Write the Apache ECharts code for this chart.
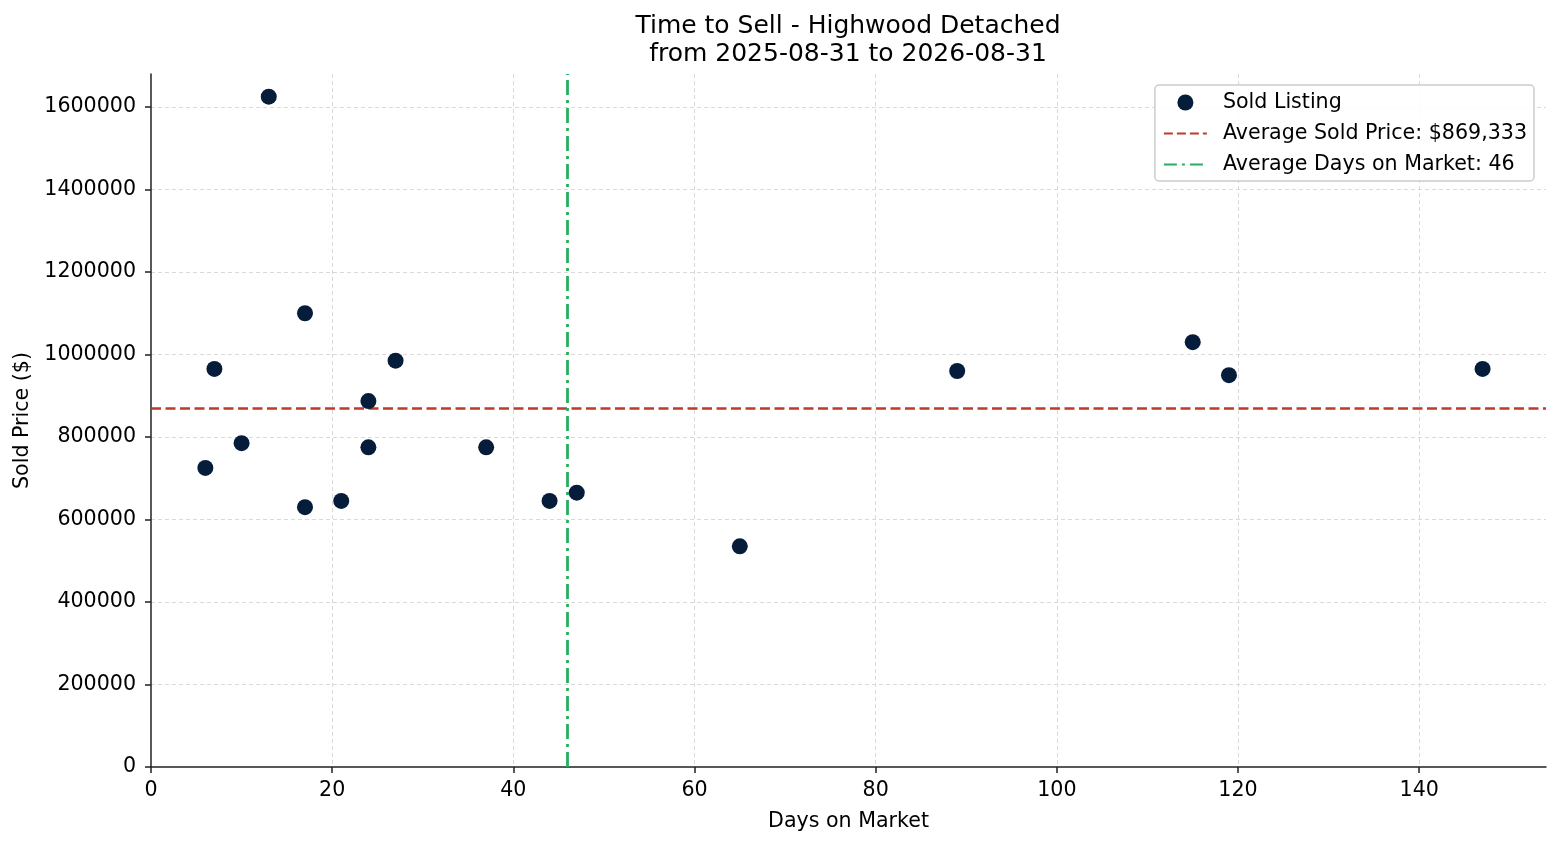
<!DOCTYPE html>
<html>
<head>
<meta charset="utf-8">
<script src="https://cdn.jsdelivr.net/npm/echarts@6/dist/echarts.min.js"></script>
<style>
  html, body { margin: 0; padding: 0; background: #fff; }
  #main { width: 1560px; height: 845px; }
</style>
</head>
<body>
<div id="main"></div>
<script>
// 数据：挂牌天数 / 成交价
let daysOnMarket = [6, 7, 10, 13, 17, 17, 21, 24, 24, 27, 37, 44, 47, 65, 89, 115, 119, 147];
let soldPrice = [725000, 965000, 785000, 1625000, 1100000, 630000, 645000, 887000, 775000, 985000,
    775000, 645000, 665000, 535000, 960000, 1030000, 950000, 965000];

let avgPrice = 869333;
let avgDays = 46;

let points = daysOnMarket.map((d, i) => [d, soldPrice[i]]);

let myChart = echarts.init(document.getElementById('main'));

let font = 'DejaVu Sans';
let fs = 20.6;
let gridLine = { show: true, showMinLine: false, showMaxLine: false, lineStyle: { color: '#d9d9d9', type: [4, 3], width: 1 } };
let axisColor = '#222';

let option = {
    animation: false,
    textStyle: { fontFamily: font },
    title: {
        text: 'Time to Sell - Highwood Detached\nfrom 2025-08-31 to 2026-08-31',
        left: 843, top: 7, textAlign: 'center',
        textStyle: { fontFamily: font, fontSize: 25, fontWeight: 'normal', color: '#000', lineHeight: 28 }
    },
    grid: { left: 151, right: 14, top: 74, bottom: 78 },
    legend: {
        right: 26, top: 85,
        orient: 'vertical',
        backgroundColor: 'rgba(255,255,255,0.85)',
        borderColor: '#cccccc', borderWidth: 1.5, borderRadius: 4,
        padding: [7, 7, 6, 8],
        itemWidth: 43, itemHeight: 16, itemGap: 10,
        textStyle: { fontFamily: font, fontSize: fs, color: '#000', padding: [0, 0, 0, 11] },
        data: [
            { name: 'Sold Listing' },
            { name: 'Average Sold Price: $869,333', itemStyle: { color: 'rgba(0,0,0,0)', opacity: 0 } },
            { name: 'Average Days on Market: 46', itemStyle: { color: 'rgba(0,0,0,0)', opacity: 0 } }
        ]
    },
    xAxis: {
        type: 'value', min: 0, max: 154, interval: 20,
        name: 'Days on Market', nameLocation: 'middle', nameGap: 44,
        nameTextStyle: { fontFamily: font, fontSize: fs, color: '#000' },
        axisLine: { show: true, lineStyle: { color: axisColor, width: 1.5 } },
        axisTick: { show: true, length: 6, lineStyle: { color: axisColor, width: 1.5 } },
        axisLabel: { fontFamily: font, fontSize: fs, color: '#000', margin: 13, showMaxLabel: false },
        splitLine: gridLine
    },
    yAxis: {
        type: 'value', min: 0, max: 1680000, interval: 200000,
        name: 'Sold Price ($)', nameLocation: 'middle', nameGap: 117, nameRotate: 90,
        nameTextStyle: { fontFamily: font, fontSize: fs, color: '#000' },
        axisLine: { show: true, lineStyle: { color: axisColor, width: 1.5 } },
        axisTick: { show: true, length: 6, lineStyle: { color: axisColor, width: 1.5 } },
        axisLabel: {
            fontFamily: font, fontSize: fs, color: '#000', margin: 15, showMaxLabel: false,
            formatter: v => String(v)
        },
        splitLine: gridLine
    },
    series: [
        {
            name: 'Sold Listing',
            type: 'scatter',
            data: points,
            symbolSize: 16,
            itemStyle: { color: '#051c3a', opacity: 1 },
            z: 5
        },
        {
            name: 'Average Sold Price: $869,333',
            type: 'line',
            data: [],
            symbol: 'none',
            lineStyle: { color: '#c0392b', width: 3, type: [9, 4] },
            itemStyle: { color: '#c0392b' },
            markLine: {
                silent: true, symbol: 'none', label: { show: false },
                lineStyle: { color: '#c0392b', width: 2.6, type: [10, 4.5] },
                data: [{ yAxis: avgPrice }]
            }
        },
        {
            name: 'Average Days on Market: 46',
            type: 'line',
            data: [],
            symbol: 'none',
            lineStyle: { color: '#27ae60', width: 3, type: [13, 5, 3, 5] },
            itemStyle: { color: '#27ae60' },
            markLine: {
                silent: true, symbol: 'none', label: { show: false },
                lineStyle: { color: '#27ae60', width: 2.8, type: [15, 5, 3, 5] },
                data: [{ xAxis: avgDays }]
            }
        }
    ]
};

myChart.setOption(option);
</script>
</body>
</html>
